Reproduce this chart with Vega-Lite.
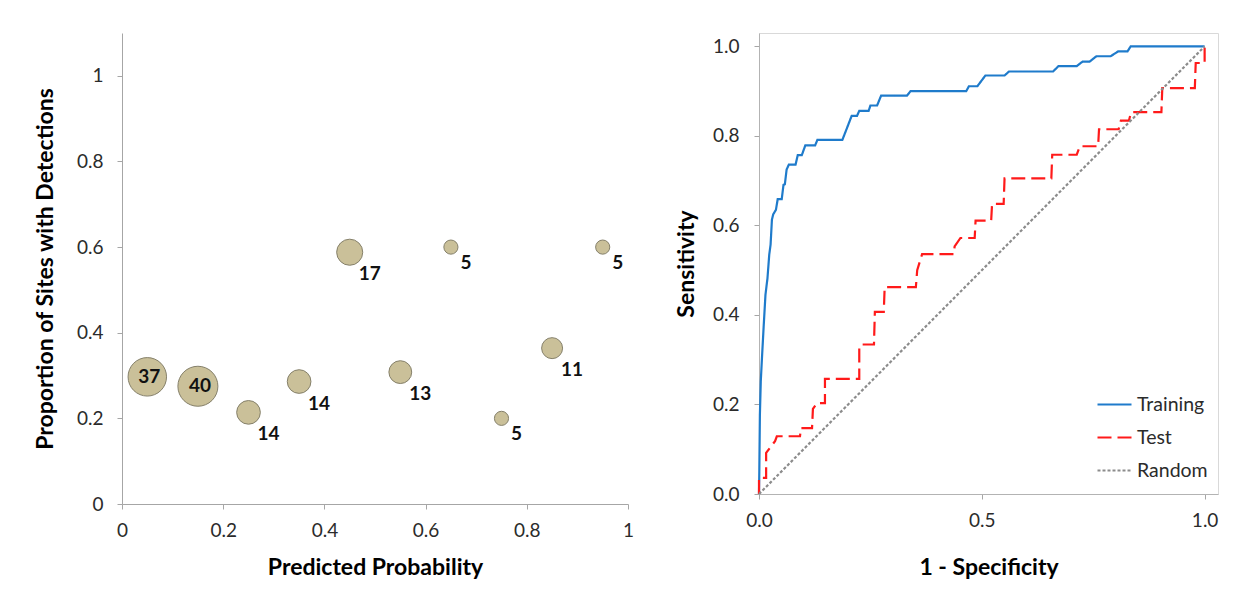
{
  "$schema": "https://vega.github.io/schema/vega-lite/v6.json",
  "background": "white",
  "padding": {"left": 34, "top": 32, "right": 5, "bottom": 5},
  "spacing": 40,
  "config": {
    "font": "Lato",
    "view": {"stroke": null},
    "axis": {
      "grid": false,
      "labelFlush": false,
      "labelOverlap": false,
      "tickSize": 5,
      "labelFontSize": 19,
      "labelColor": "#2b2b2b",
      "titleFontSize": 23,
      "titleFontWeight": "bold",
      "titleColor": "#000000",
      "domainColor": "#a6a6a6",
      "tickColor": "#a6a6a6"
    }
  },
  "datasets": {
    "bubbles": [
      {"p": 0.05, "prop": 0.297, "n": 37},
      {"p": 0.15, "prop": 0.275, "n": 40},
      {"p": 0.25, "prop": 0.214, "n": 14},
      {"p": 0.35, "prop": 0.286, "n": 14},
      {"p": 0.45, "prop": 0.588, "n": 17},
      {"p": 0.55, "prop": 0.308, "n": 13},
      {"p": 0.65, "prop": 0.6, "n": 5},
      {"p": 0.75, "prop": 0.2, "n": 5},
      {"p": 0.85, "prop": 0.364, "n": 11},
      {"p": 0.95, "prop": 0.6, "n": 5}
    ],
    "roc": [
      {"series": "Training", "fpr": 0, "tpr": 0},
      {"series": "Training", "fpr": 0.0007, "tpr": 0.05},
      {"series": "Training", "fpr": 0.002, "tpr": 0.177},
      {"series": "Training", "fpr": 0.004, "tpr": 0.252},
      {"series": "Training", "fpr": 0.007, "tpr": 0.31},
      {"series": "Training", "fpr": 0.0105, "tpr": 0.375},
      {"series": "Training", "fpr": 0.0145, "tpr": 0.445},
      {"series": "Training", "fpr": 0.019, "tpr": 0.482},
      {"series": "Training", "fpr": 0.023, "tpr": 0.535},
      {"series": "Training", "fpr": 0.026, "tpr": 0.557},
      {"series": "Training", "fpr": 0.029, "tpr": 0.613},
      {"series": "Training", "fpr": 0.032, "tpr": 0.625},
      {"series": "Training", "fpr": 0.038, "tpr": 0.635},
      {"series": "Training", "fpr": 0.042, "tpr": 0.659},
      {"series": "Training", "fpr": 0.051, "tpr": 0.659},
      {"series": "Training", "fpr": 0.055, "tpr": 0.691},
      {"series": "Training", "fpr": 0.058, "tpr": 0.692},
      {"series": "Training", "fpr": 0.062, "tpr": 0.725},
      {"series": "Training", "fpr": 0.067, "tpr": 0.736},
      {"series": "Training", "fpr": 0.082, "tpr": 0.736},
      {"series": "Training", "fpr": 0.087, "tpr": 0.757},
      {"series": "Training", "fpr": 0.096, "tpr": 0.757},
      {"series": "Training", "fpr": 0.1, "tpr": 0.768},
      {"series": "Training", "fpr": 0.104, "tpr": 0.779},
      {"series": "Training", "fpr": 0.126, "tpr": 0.779},
      {"series": "Training", "fpr": 0.131, "tpr": 0.791},
      {"series": "Training", "fpr": 0.187, "tpr": 0.791},
      {"series": "Training", "fpr": 0.196, "tpr": 0.814},
      {"series": "Training", "fpr": 0.208, "tpr": 0.845},
      {"series": "Training", "fpr": 0.22, "tpr": 0.845},
      {"series": "Training", "fpr": 0.225, "tpr": 0.856},
      {"series": "Training", "fpr": 0.246, "tpr": 0.856},
      {"series": "Training", "fpr": 0.25, "tpr": 0.868},
      {"series": "Training", "fpr": 0.265, "tpr": 0.868},
      {"series": "Training", "fpr": 0.274, "tpr": 0.89},
      {"series": "Training", "fpr": 0.332, "tpr": 0.89},
      {"series": "Training", "fpr": 0.34, "tpr": 0.9},
      {"series": "Training", "fpr": 0.465, "tpr": 0.9},
      {"series": "Training", "fpr": 0.471, "tpr": 0.911},
      {"series": "Training", "fpr": 0.49, "tpr": 0.911},
      {"series": "Training", "fpr": 0.508, "tpr": 0.935},
      {"series": "Training", "fpr": 0.551, "tpr": 0.935},
      {"series": "Training", "fpr": 0.561, "tpr": 0.944},
      {"series": "Training", "fpr": 0.66, "tpr": 0.944},
      {"series": "Training", "fpr": 0.672, "tpr": 0.956},
      {"series": "Training", "fpr": 0.713, "tpr": 0.956},
      {"series": "Training", "fpr": 0.726, "tpr": 0.966},
      {"series": "Training", "fpr": 0.742, "tpr": 0.966},
      {"series": "Training", "fpr": 0.757, "tpr": 0.978},
      {"series": "Training", "fpr": 0.789, "tpr": 0.978},
      {"series": "Training", "fpr": 0.806, "tpr": 0.989},
      {"series": "Training", "fpr": 0.827, "tpr": 0.989},
      {"series": "Training", "fpr": 0.834, "tpr": 1.0},
      {"series": "Training", "fpr": 1.0, "tpr": 1.0},
      {"series": "Test", "fpr": 0, "tpr": 0},
      {"series": "Test", "fpr": 0, "tpr": 0.036},
      {"series": "Test", "fpr": 0.016, "tpr": 0.036},
      {"series": "Test", "fpr": 0.016, "tpr": 0.092},
      {"series": "Test", "fpr": 0.036, "tpr": 0.118},
      {"series": "Test", "fpr": 0.04, "tpr": 0.129},
      {"series": "Test", "fpr": 0.092, "tpr": 0.129},
      {"series": "Test", "fpr": 0.094, "tpr": 0.147},
      {"series": "Test", "fpr": 0.119, "tpr": 0.147},
      {"series": "Test", "fpr": 0.121, "tpr": 0.19},
      {"series": "Test", "fpr": 0.13, "tpr": 0.203},
      {"series": "Test", "fpr": 0.148, "tpr": 0.203},
      {"series": "Test", "fpr": 0.148, "tpr": 0.257},
      {"series": "Test", "fpr": 0.225, "tpr": 0.257},
      {"series": "Test", "fpr": 0.225, "tpr": 0.33},
      {"series": "Test", "fpr": 0.232, "tpr": 0.334},
      {"series": "Test", "fpr": 0.258, "tpr": 0.334},
      {"series": "Test", "fpr": 0.26, "tpr": 0.407},
      {"series": "Test", "fpr": 0.28, "tpr": 0.407},
      {"series": "Test", "fpr": 0.282, "tpr": 0.462},
      {"series": "Test", "fpr": 0.352, "tpr": 0.462},
      {"series": "Test", "fpr": 0.355, "tpr": 0.5},
      {"series": "Test", "fpr": 0.366, "tpr": 0.536},
      {"series": "Test", "fpr": 0.437, "tpr": 0.536},
      {"series": "Test", "fpr": 0.439, "tpr": 0.553},
      {"series": "Test", "fpr": 0.452, "tpr": 0.572},
      {"series": "Test", "fpr": 0.484, "tpr": 0.572},
      {"series": "Test", "fpr": 0.486, "tpr": 0.611},
      {"series": "Test", "fpr": 0.521, "tpr": 0.611},
      {"series": "Test", "fpr": 0.523, "tpr": 0.648},
      {"series": "Test", "fpr": 0.549, "tpr": 0.648},
      {"series": "Test", "fpr": 0.551, "tpr": 0.705},
      {"series": "Test", "fpr": 0.656, "tpr": 0.705},
      {"series": "Test", "fpr": 0.658, "tpr": 0.758},
      {"series": "Test", "fpr": 0.713, "tpr": 0.758},
      {"series": "Test", "fpr": 0.72, "tpr": 0.777},
      {"series": "Test", "fpr": 0.761, "tpr": 0.777},
      {"series": "Test", "fpr": 0.763, "tpr": 0.815},
      {"series": "Test", "fpr": 0.807, "tpr": 0.815},
      {"series": "Test", "fpr": 0.812, "tpr": 0.834},
      {"series": "Test", "fpr": 0.83, "tpr": 0.834},
      {"series": "Test", "fpr": 0.835, "tpr": 0.853},
      {"series": "Test", "fpr": 0.903, "tpr": 0.853},
      {"series": "Test", "fpr": 0.905, "tpr": 0.907},
      {"series": "Test", "fpr": 0.978, "tpr": 0.907},
      {"series": "Test", "fpr": 0.98, "tpr": 0.963},
      {"series": "Test", "fpr": 1.0, "tpr": 0.963},
      {"series": "Test", "fpr": 1.0, "tpr": 1.0},
      {"series": "Random", "fpr": 0, "tpr": 0},
      {"series": "Random", "fpr": 1.0, "tpr": 1.0}
    ]
  },
  "hconcat": [
    {
      "width": 506,
      "height": 471,
      "data": {"name": "bubbles"},
      "encoding": {
        "x": {
          "field": "p", "type": "quantitative",
          "scale": {"domain": [0, 1], "nice": false},
          "axis": {"values": [0, 0.2, 0.4, 0.6, 0.8, 1], "format": "~g", "title": "Predicted Probability", "labelPadding": 12, "titlePadding": 16}
        },
        "y": {
          "field": "prop", "type": "quantitative",
          "scale": {"domain": [0, 1.1], "nice": false},
          "axis": {"values": [0, 0.2, 0.4, 0.6, 0.8, 1], "format": "~g", "title": "Proportion of Sites with Detections", "labelPadding": 14, "titlePadding": 19}
        }
      },
      "layer": [
        {
          "mark": {"type": "point", "shape": "circle", "filled": true, "fill": "#CAC099", "fillOpacity": 1, "stroke": "#85806A", "strokeWidth": 1, "strokeOpacity": 1},
          "encoding": {
            "size": {"field": "n", "type": "quantitative", "scale": {"domain": [0, 40], "range": [0, 1600]}, "legend": null}
          }
        },
        {
          "transform": [{"filter": "datum.n >= 30"}],
          "mark": {"type": "text", "fontWeight": "bold", "fontSize": 19, "color": "#111111", "align": "center", "baseline": "middle", "dx": 2},
          "encoding": {"text": {"field": "n", "type": "quantitative"}}
        },
        {
          "transform": [{"filter": "datum.n > 6 && datum.n < 30"}],
          "mark": {"type": "text", "fontWeight": "bold", "fontSize": 19, "color": "#111111", "align": "center", "baseline": "middle", "dx": 20, "dy": 22},
          "encoding": {"text": {"field": "n", "type": "quantitative"}}
        },
        {
          "transform": [{"filter": "datum.n <= 6"}],
          "mark": {"type": "text", "fontWeight": "bold", "fontSize": 19, "color": "#111111", "align": "center", "baseline": "middle", "dx": 15, "dy": 16},
          "encoding": {"text": {"field": "n", "type": "quantitative"}}
        }
      ]
    },
    {
      "width": 459,
      "height": 461,
      "view": {"stroke": "#d9d9d9"},
      "data": {"name": "roc"},
      "mark": {"type": "line"},
      "encoding": {
        "x": {
          "field": "fpr", "type": "quantitative",
          "scale": {"domain": [0, 1.03], "nice": false},
          "axis": {"values": [0, 0.5, 1], "format": ".1f", "title": "1 - Specificity", "labelPadding": 12, "titlePadding": 26, "domainColor": "#b3b3b3"}
        },
        "y": {
          "field": "tpr", "type": "quantitative",
          "scale": {"domain": [0, 1.03], "nice": false},
          "axis": {"values": [0, 0.2, 0.4, 0.6, 0.8, 1], "format": ".1f", "title": "Sensitivity", "labelPadding": 15, "titlePadding": 14, "domainColor": "#b3b3b3"}
        },
        "color": {
          "field": "series", "type": "nominal",
          "scale": {"domain": ["Training", "Test", "Random"], "range": ["#1F7BCB", "#FF1A1A", "#8C8C8C"]},
          "legend": {"title": null, "orient": "none", "legendX": 974, "legendY": 353, "symbolType": "stroke", "symbolSize": 1156, "labelFontSize": 19.5, "labelColor": "#2b2b2b", "labelOffset": 4, "rowPadding": 5, "padding": 0}
        },
        "strokeDash": {
          "field": "series", "type": "nominal",
          "scale": {"domain": ["Training", "Test", "Random"], "range": [[1, 0], [14, 6], [3, 2]]}
        },
        "strokeWidth": {
          "field": "series", "type": "nominal",
          "scale": {"domain": ["Training", "Test", "Random"], "range": [2.2, 2.2, 1.1]}
        },
        "order": {"value": null}
      }
    }
  ]
}
